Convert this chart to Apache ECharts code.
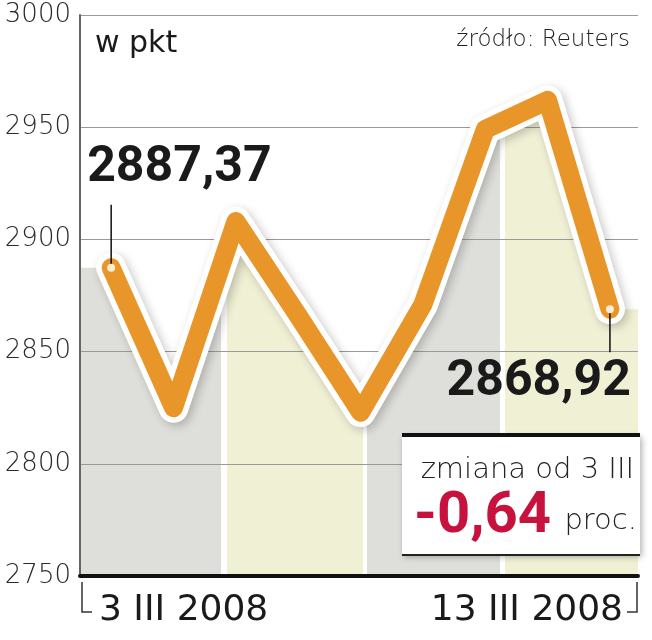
<!DOCTYPE html>
<html><head><meta charset="utf-8">
<script src="https://cdn.jsdelivr.net/npm/echarts@6/dist/echarts.min.js"></script>
<style>html,body{margin:0;padding:0;background:#fff}#c{width:652px;height:640px}</style>
</head><body><div id="c"></div>
<script>
// ---- data ----
const dates = ['3 III','4 III','5 III','6 III','7 III','10 III','11 III','12 III','13 III'];
const values = [2887.37, 2825, 2908, 2866, 2823, 2871, 2949, 2962, 2868.92];
const yTicks = [2750, 2800, 2850, 2900, 2950, 3000];
const xEndLabels = ['3 III 2008', '13 III 2008'];
const firstLabel = '2887,37';
const lastLabel = '2868,92';
const unitText = 'w pkt';
const sourceText = 'źródło: Reuters';
const changeTitle = 'zmiana od 3 III';
const changeValue = '-0,64';
const changeUnit = 'proc.';

// ---- build ----
const X_MIN = -0.5, X_MAX = 8.45;
const pts = values.map((v, i) => [i, v]);
const areaData = [[X_MIN, values[0]], ...pts, [X_MAX, values[values.length - 1]]];
const GRAY = '#dedfda', YEL = '#eff0d4', W = '#ffffff';
const stops = [[0,GRAY],[0.253,GRAY],[0.253,W],[0.263,W],[0.263,YEL],[0.507,YEL],[0.507,W],[0.514,W],[0.514,GRAY],[0.753,GRAY],[0.753,W],[0.762,W],[0.762,YEL],[1,YEL]]
  .map(s => ({offset: s[0], color: s[1]}));
const bandGrad = new echarts.graphic.LinearGradient(0, 0, 1, 0, stops);

const LIGHT = 'DejaVu Sans';
const chart = echarts.init(document.getElementById('c'), null, {renderer: 'canvas'});
chart.setOption({
  animation: false,
  backgroundColor: '#fff',
  grid: {left: 80, right: 14, top: 15, bottom: 64},
  xAxis: {
    type: 'value', min: X_MIN, max: X_MAX, z: 5,
    axisLine: {show: true, onZero: false, lineStyle: {color: '#111', width: 4}},
    axisTick: {show: false}, axisLabel: {show: false}, splitLine: {show: false}
  },
  yAxis: {
    type: 'value', min: yTicks[0], max: yTicks[yTicks.length - 1], interval: yTicks[1] - yTicks[0], z: 1,
    axisLine: {show: true, onZero: false, lineStyle: {color: '#666', width: 2}},
    axisTick: {show: false},
    axisLabel: {margin: 9, fontSize: 26, color: '#2a2a2a', fontFamily: LIGHT, fontWeight: 300,
      formatter: v => String(v)},
    splitLine: {show: true, lineStyle: {color: '#9a9a9a', width: 1}}
  },
  series: [
    {type: 'line', data: areaData, showSymbol: false, silent: true, z: 0,
     lineStyle: {width: 0}, areaStyle: {color: bandGrad, opacity: 1}},
    {type: 'line', data: pts, showSymbol: false, silent: true, z: 3,
     lineStyle: {color: '#fff', width: 30, cap: 'round', join: 'round',
       shadowColor: 'rgba(0,0,0,0.22)', shadowBlur: 10, shadowOffsetX: 3, shadowOffsetY: 3}},
    {type: 'line', data: pts, showSymbol: false, silent: true, z: 4,
     lineStyle: {color: '#e8962a', width: 19, cap: 'round', join: 'round'}},
    {type: 'scatter', data: [pts[0], pts[pts.length - 1]], symbolSize: 8, silent: true, z: 6,
     itemStyle: {color: '#fff'}}
  ]
});

const p0 = chart.convertToPixel({gridIndex: 0}, pts[0]);
const pN = chart.convertToPixel({gridIndex: 0}, pts[pts.length - 1]);
const DARK = '#1a1a1a';
chart.setOption({
  graphic: [
    {type: 'text', z: 20, x: 95, y: 44, style: {text: unitText, font: '30px "DejaVu Sans"', fill: DARK, verticalAlign: 'middle', align: 'left'}},
    {type: 'text', z: 20, x: 630, y: 40, style: {text: sourceText, font: '300 23px "DejaVu Sans"', fill: '#222', verticalAlign: 'middle', align: 'right'}},
    // first value callout
    {type: 'line', z: 20, shape: {x1: p0[0], y1: p0[1] - 63, x2: p0[0], y2: p0[1] - 4}, style: {stroke: '#111', lineWidth: 1.5}},
    {type: 'text', z: 20, x: p0[0] - 24, y: p0[1] - 99, style: {text: firstLabel, font: 'bold 50px Roboto', fill: DARK, verticalAlign: 'middle', align: 'left'}},
    // last value callout
    {type: 'line', z: 20, shape: {x1: pN[0], y1: pN[1] + 4, x2: pN[0], y2: pN[1] + 43}, style: {stroke: '#111', lineWidth: 1.5}},
    {type: 'text', z: 20, x: pN[0] + 21, y: pN[1] + 73, style: {text: lastLabel, font: 'bold 50px Roboto', fill: DARK, verticalAlign: 'middle', align: 'right'}},
    // change box
    {type: 'rect', z: 20, shape: {x: 402, y: 435, width: 238, height: 120},
     style: {fill: '#fff', shadowColor: 'rgba(0,0,0,0.3)', shadowBlur: 6, shadowOffsetX: 2, shadowOffsetY: 2}},
    {type: 'line', z: 21, shape: {x1: 402, y1: 435, x2: 640, y2: 435}, style: {stroke: '#111', lineWidth: 4}},
    {type: 'line', z: 21, shape: {x1: 402, y1: 555, x2: 640, y2: 555}, style: {stroke: '#222', lineWidth: 2}},
    {type: 'text', z: 21, x: 634, y: 470, style: {text: changeTitle, font: '300 29px "DejaVu Sans"', fill: '#222', verticalAlign: 'middle', align: 'right'}},
    {type: 'text', z: 21, x: 551, y: 517, style: {text: changeValue, font: 'bold 58px Roboto', fill: '#c8123e', verticalAlign: 'middle', align: 'right'}},
    {type: 'text', z: 21, x: 637, y: 521, style: {text: changeUnit, font: '300 29px "DejaVu Sans"', fill: '#222', verticalAlign: 'middle', align: 'right'}},
    // x end labels with brackets
    {type: 'polyline', z: 20, shape: {points: [[82, 582], [82, 612], [92, 612]]}, style: {stroke: '#333', lineWidth: 1.5, fill: null}},
    {type: 'text', z: 20, x: 99, y: 611, style: {text: xEndLabels[0], font: '36px "DejaVu Sans"', fill: DARK, verticalAlign: 'middle', align: 'left'}},
    {type: 'polyline', z: 20, shape: {points: [[637, 582], [637, 612], [627, 612]]}, style: {stroke: '#333', lineWidth: 1.5, fill: null}},
    {type: 'text', z: 20, x: 623, y: 611, style: {text: xEndLabels[1], font: '36px "DejaVu Sans"', fill: DARK, verticalAlign: 'middle', align: 'right'}}
  ]
});
</script>
</body></html>
